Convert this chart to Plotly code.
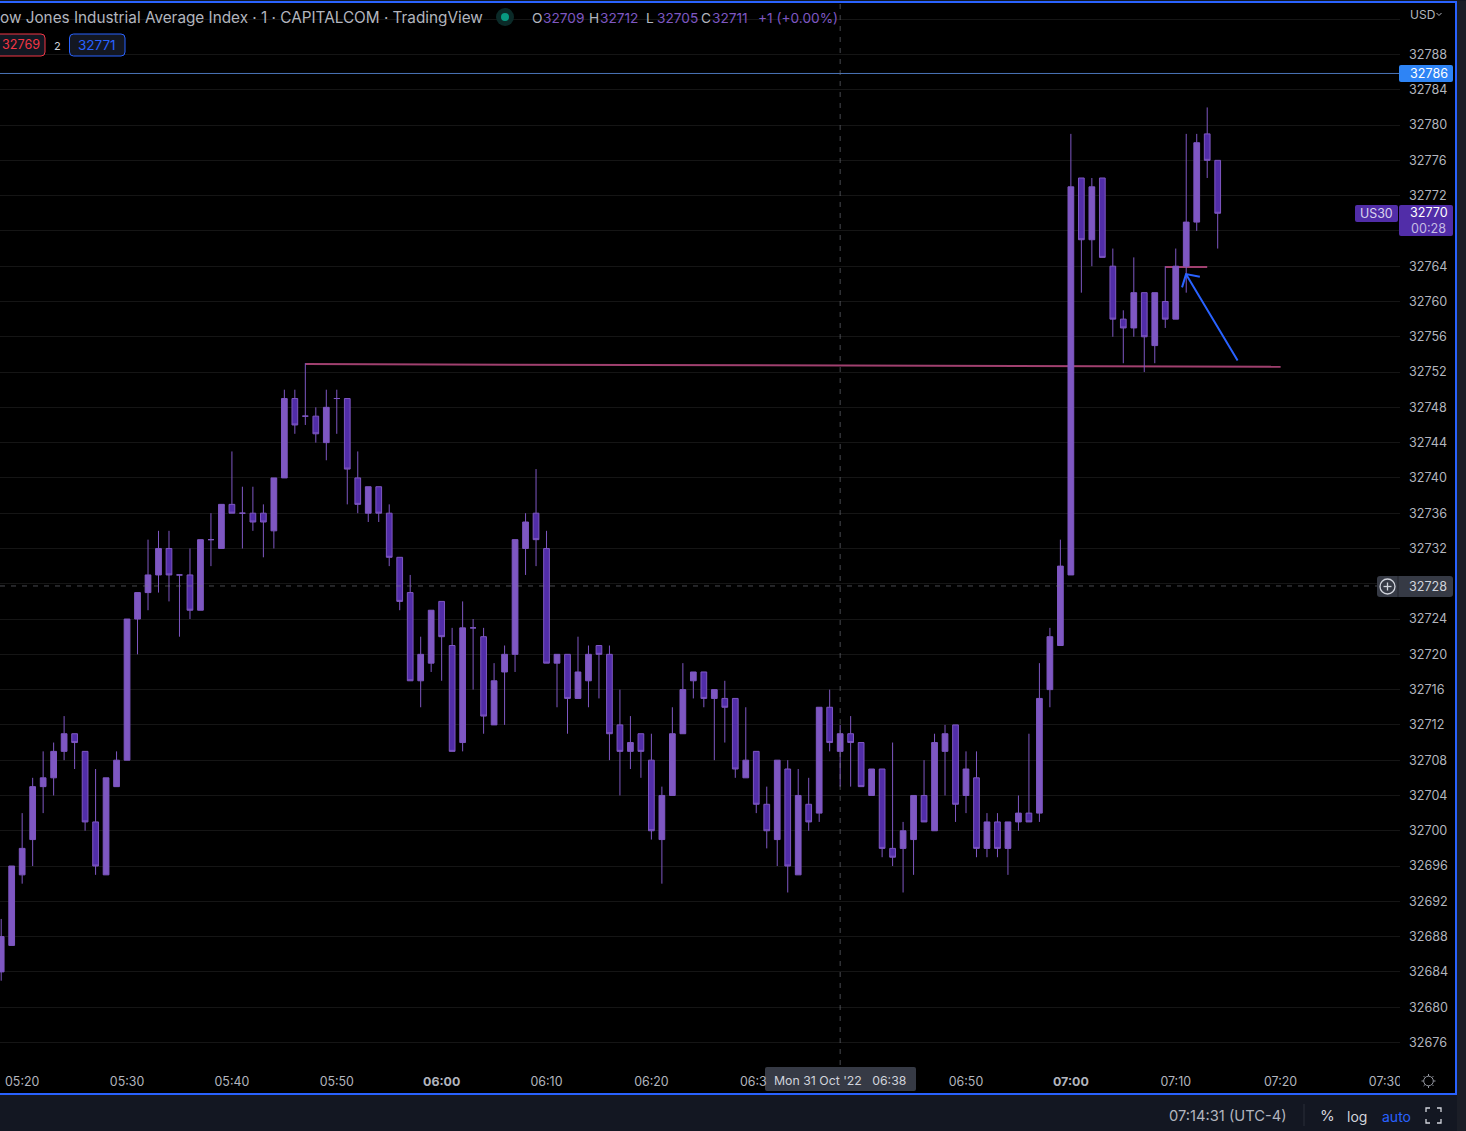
import pandas as pd
import plotly.graph_objects as go

# ---------- data ----------
first_bar = "2022-10-31 05:18"
open_values = [32684,32687,32695,32699,32705,32706,32709,32711,32709,32701,32695,32705,32708,32724,32727,32729,32732,32729,32729,32725,32733,32732,32737,32736,32736,32736,32734,32740,32749,32747,32747,32744,32749,32749,32740,32736,32739,32736,32731,32727,32717,32719,32726,32721,32710,32723,32722,32712,32718,32720,32732,32736,32732,32719,32720,32715,32717,32721,32720,32712,32709,32711,32708,32699,32704,32711,32717,32718,32715,32715,32715,32706,32709,32703,32699,32707,32695,32703,32702,32714,32709,32711,32710,32704,32707,32698,32698,32699,32704,32700,32709,32712,32704,32706,32698,32701,32698,32701,32702,32702,32716,32721,32729,32774,32767,32774,32764,32758,32757,32761,32755,32760,32758,32764,32769,32779,32776]
high_values = [32690,32696,32702,32706,32709,32710,32713,32711,32709,32707,32706,32709,32724,32727,32733,32734,32734,32729,32732,32733,32736,32737,32743,32739,32739,32737,32740,32750,32750,32753,32748,32750,32750,32749,32743,32739,32739,32737,32731,32729,32722,32725,32726,32723,32726,32724,32723,32719,32721,32733,32736,32741,32734,32720,32720,32722,32721,32721,32721,32716,32713,32711,32711,32705,32714,32719,32718,32718,32716,32717,32715,32714,32709,32705,32708,32708,32707,32706,32714,32716,32712,32713,32710,32707,32707,32710,32701,32704,32708,32711,32712,32712,32709,32709,32702,32702,32701,32704,32711,32719,32723,32733,32779,32774,32774,32774,32766,32759,32765,32761,32761,32764,32766,32779,32779,32782,32776]
low_values = [32683,32687,32694,32696,32702,32704,32708,32707,32700,32695,32695,32705,32708,32720,32725,32727,32726,32722,32724,32725,32730,32732,32736,32732,32734,32731,32732,32740,32745,32746,32744,32742,32745,32737,32736,32735,32735,32730,32725,32717,32714,32718,32717,32709,32709,32716,32711,32712,32712,32718,32729,32730,32719,32714,32711,32715,32714,32715,32708,32704,32707,32706,32699,32694,32704,32711,32715,32714,32708,32710,32706,32706,32702,32698,32696,32693,32695,32700,32701,32709,32705,32705,32705,32704,32697,32696,32693,32695,32701,32700,32704,32701,32702,32697,32697,32697,32695,32700,32701,32701,32714,32721,32729,32761,32764,32765,32756,32753,32756,32752,32753,32757,32758,32761,32768,32774,32766]
close_values = [32688,32696,32698,32705,32706,32709,32711,32710,32701,32696,32706,32708,32724,32727,32729,32732,32729,32729,32725,32733,32733,32737,32736,32736,32735,32735,32740,32749,32746,32747,32745,32748,32749,32741,32737,32739,32736,32731,32726,32717,32720,32725,32722,32709,32723,32723,32713,32717,32720,32733,32735,32733,32719,32720,32715,32718,32720,32720,32711,32709,32710,32709,32700,32704,32711,32716,32718,32715,32716,32714,32707,32708,32703,32700,32708,32696,32704,32701,32714,32710,32711,32710,32705,32707,32698,32697,32700,32704,32701,32710,32711,32703,32707,32698,32701,32698,32701,32702,32701,32715,32722,32730,32773,32767,32773,32765,32758,32757,32761,32756,32761,32758,32764,32769,32778,32776,32770]

price_ticks = [32676,32680,32684,32688,32692,32696,32700,32704,32708,32712,32716,32720,32724,32728,32732,32736,32740,32744,32748,32752,32756,32760,32764,32768,32772,32776,32780,32784,32788,32792]
price_tick_labels = ["32676","32680","32684","32688","32692","32696","32700","32704","32708","32712","32716","32720","32724","","32732","32736","32740","32744","32748","32752","32756","32760","32764","","32772","32776","32780","32784","32788",""]
time_ticks = ["05:20","05:30","05:40","05:50","06:00","06:10","06:20","06:30","06:40","06:50","07:00","07:10","07:20","07:30"]
time_tick_labels = ["05:20","05:30","05:40","05:50","<b>06:00</b>","06:10","06:20","","","06:50","<b>07:00</b>","07:10","07:20","07:30"]

ohlc_pieces = ["O","32709","H","32712","L","32705","C","32711","+1 (+0.00%)"]

level_times = ["05:47", "07:20"]
level_prices = [32752.9, 32752.6]
short_level_times = ["07:09", "07:13"]
short_level_prices = [32763.9, 32763.9]
arrow_times = ["07:15:54", "07:10:59", "07:10:36", "07:10:59", "07:12:18"]
arrow_prices = [32753.3, 32763.1, 32761.6, 32763.1, 32762.8]
alert_price = 32785.85
crosshair_time = "06:38"
crosshair_price = 32727.75

# ---------- geometry ----------
W, H = 1400, 1065
PX_PER_UNIT = 8.821
PX_PER_MIN = 10.487
def fx(x): return x / W
def fy(y): return 1 - y / H
base = pd.Timestamp(first_bar)
day = "2022-10-31 "
times = [base + pd.Timedelta(minutes=i) for i in range(len(open_values))]
def t(s): return day + s
x0 = base - pd.Timedelta(minutes=1.2 / PX_PER_MIN)
x1 = base + pd.Timedelta(minutes=(W - 1.2) / PX_PER_MIN)
ytop = 32788 + 54.5 / PX_PER_UNIT
ybot = 32788 - (H - 54.5) / PX_PER_UNIT

UP = "#7e57c2"
DOWN = "#512da8"
TXT = "#b2b5be"
FONT = "Inter"

fig = go.Figure()
fig.add_trace(go.Candlestick(
    x=times, open=open_values, high=high_values, low=low_values, close=close_values,
    increasing=dict(fillcolor=UP, line=dict(color=UP, width=1)),
    decreasing=dict(fillcolor=DOWN, line=dict(color=UP, width=1)),
    whiskerwidth=0, showlegend=False, hoverinfo="skip"))
fig.add_trace(go.Scatter(
    x=[t(s) for s in arrow_times], y=arrow_prices, mode="lines",
    line=dict(color="#2962ff", width=2), showlegend=False, hoverinfo="skip"))

shapes = []
annotations = []

def rrect(x0_, y0_, x1_, y1_, fill, line=None, r=3, layer="above"):
    a, b, c, d = fx(x0_), fy(y0_), fx(x1_), fy(y1_)
    rx, ry = r / W, r / H
    path = (f"M{a+rx},{b} L{c-rx},{b} Q{c},{b} {c},{b-ry} L{c},{d+ry} Q{c},{d} {c-rx},{d} "
            f"L{a+rx},{d} Q{a},{d} {a},{d+ry} L{a},{b-ry} Q{a},{b} {a+rx},{b} Z")
    shapes.append(dict(type="path", xref="paper", yref="paper", path=path, fillcolor=fill,
                       line=dict(color=line or fill, width=1 if line else 0), layer=layer))

def rect(x0_, y0_, x1_, y1_, fill):
    shapes.append(dict(type="rect", xref="paper", yref="paper", x0=fx(x0_), x1=fx(x1_),
                       y0=fy(y0_), y1=fy(y1_), fillcolor=fill, line=dict(width=0), layer="above"))

def seg(pts, color, width=1.3, dash=None):
    d = "M" + " L".join(f"{fx(a)},{fy(b)}" for a, b in pts)
    ln = dict(color=color, width=width)
    if dash: ln["dash"] = dash
    shapes.append(dict(type="path", xref="paper", yref="paper", path=d, line=ln, layer="above"))

def circle(cx, cy, r, fill, line=None, width=1.3):
    shapes.append(dict(type="circle", xref="paper", yref="paper", x0=fx(cx - r), x1=fx(cx + r),
                       y0=fy(cy + r), y1=fy(cy - r), fillcolor=fill,
                       line=dict(color=line or fill, width=width if line else 0), layer="above"))

def label(x, y, text, color=TXT, size=13, anchor="center"):
    annotations.append(dict(xref="paper", yref="paper", x=fx(x), y=fy(y), text=text,
                            showarrow=False, xanchor=anchor, yanchor="middle", borderpad=0,
                            font=dict(family=FONT, size=size, color=color)))

# drawings between the grid and the candles
shapes.append(dict(type="line", xref="x", yref="y", x0=t(level_times[0]), x1=t(level_times[1]),
                   y0=level_prices[0], y1=level_prices[1], line=dict(color="#a0406f", width=2), layer="between"))
shapes.append(dict(type="line", xref="x", yref="y", x0=t(short_level_times[0]), x1=t(short_level_times[1]),
                   y0=short_level_prices[0], y1=short_level_prices[1], line=dict(color="#a0406f", width=2), layer="between"))
shapes.append(dict(type="line", xref="paper", yref="y", x0=0, x1=1, y0=alert_price, y1=alert_price,
                   line=dict(color="#4a74b8", width=1), layer="between"))

# crosshair
shapes.append(dict(type="line", xref="x", yref="paper", x0=t(crosshair_time), x1=t(crosshair_time), y0=0, y1=1,
                   line=dict(color="rgba(120,123,134,0.6)", width=1, dash="5px,6px"), layer="above"))
shapes.append(dict(type="line", xref="paper", yref="y", x0=0, x1=fx(1377), y0=crosshair_price, y1=crosshair_price,
                   line=dict(color="rgba(120,123,134,0.6)", width=1, dash="5px,6px"), layer="above"))

# right-hand mask for the clipped time label
rect(1400, 1062, 1455, 1094, "#000000")

# price tags
rrect(1399, 65, 1453, 82, "#2e84f5", r=2)
label(1428.5, 73.5, "32786", "#ffffff", 12.6)
rrect(1355, 205, 1398, 222, DOWN, r=2)
label(1376.5, 213.5, "US30", "#d9d3ee", 12.4)
rrect(1399, 205, 1453, 236, DOWN, r=2)
label(1428.5, 213, "32770", "#ffffff", 12.6)
label(1428.5, 228.5, "00:28", "#c5bce3", 12.6)
rrect(1377, 576, 1453, 597, "#363a45", r=3)
seg([(1398, 576), (1398, 597)], "#22252d", 1)
circle(1387.5, 586.5, 7.5, "rgba(0,0,0,0)", "#d1d4dc", 1.3)
seg([(1383.5, 586.5), (1391.5, 586.5)], "#d1d4dc", 1.3)
seg([(1387.5, 582.5), (1387.5, 590.5)], "#d1d4dc", 1.3)
label(1428, 586.5, "32728", "#d1d4dc", 12.6)

# clipped time label and crosshair time tag
label(739, 1081, "06:3", TXT, 12.4, "left")
rrect(765, 1067, 916, 1091, "#363a45", r=2)
label(840, 1080.5, "Mon 31 Oct '22\u00a0\u00a0\u00a006:38", "#d1d4dc", 12.3)

# frame and bottom bar
rect(0, 1095, 1466, 1131, "#131722")
rect(1457, 0, 1466, 1131, "#1b1e27")
rect(0, 0, 1466, 1, "#131722")
rect(0, 1, 1457, 3, "#2962ff")
rect(1455, 1, 1457, 1095, "#2962ff")
rect(0, 1093, 1457, 1095, "#2962ff")
seg([(1304, 1104), (1304, 1126)], "#2a2e39", 1)

# header
label(-1, 17, "ow Jones Industrial Average Index · 1 · CAPITALCOM · TradingView", "#b2b5be", 15.3, "left")
circle(505, 17, 9, "#0b2a28")
circle(505, 17, 4, "#089981")
for xpos, piece, colr in zip([531, 542, 588, 599, 645, 656, 700, 711, 757], ohlc_pieces,
                             [TXT, UP, TXT, UP, TXT, UP, TXT, UP, UP]):
    label(xpos, 18, piece, colr, 13.7, "left")
rrect(-8, 34, 45, 56, "#131722", "#f23645", r=4)
label(0.5, 45, "32769", "#f23645", 12.6, "left")
label(57, 46, "2", "#d1d4dc", 11)
rrect(69.5, 34, 125, 56, "#131722", "#2962ff", r=4)
label(97, 45, "32771", "#2962ff", 13.5)

# USD selector
label(1408.5, 15, "USD", TXT, 12, "left")
seg([(1436.5, 13), (1439, 15.5), (1441.5, 13)], TXT, 1)

# gear
circle(1428.5, 1081, 4.8, "rgba(0,0,0,0)", "#9598a1", 1)
for a, b, c, d in [(1428.5, 1074, 1428.5, 1076), (1428.5, 1086, 1428.5, 1088), (1421.5, 1081, 1423.5, 1081),
                   (1433.5, 1081, 1435.5, 1081), (1423.6, 1076.1, 1425, 1077.5), (1432, 1084.5, 1433.4, 1085.9),
                   (1423.6, 1085.9, 1425, 1084.5), (1432, 1077.5, 1433.4, 1076.1)]:
    seg([(a, b), (c, d)], "#9598a1", 1)

# bottom bar text and icon
label(1227.5, 1116, "07:14:31 (UTC-4)", TXT, 14.7)
label(1327, 1115, "%", "#d1d4dc", 15)
label(1357, 1116, "log", "#d1d4dc", 14)
label(1396, 1116, "auto", "#2962ff", 14)
for pts in [[(1426, 1112), (1426, 1108), (1430, 1108)], [(1437, 1108), (1441, 1108), (1441, 1112)],
            [(1441, 1119), (1441, 1123), (1437, 1123)], [(1430, 1123), (1426, 1123), (1426, 1119)]]:
    seg(pts, "#d1d4dc", 1.3)

fig.update_layout(
    width=1466, height=1131,
    margin=dict(l=0, r=66, t=0, b=66, pad=0, autoexpand=False),
    paper_bgcolor="#000000", plot_bgcolor="#000000",
    boxgap=0.22, showlegend=False, dragmode=False,
    font=dict(family=FONT, color=TXT, size=13),
    shapes=shapes, annotations=annotations,
    xaxis=dict(type="date", range=[x0, x1], rangeslider=dict(visible=False), showgrid=False, zeroline=False,
               showline=False, ticks="", tickmode="array", tickvals=[t(s) for s in time_ticks],
               ticktext=time_tick_labels, tickfont=dict(family=FONT, size=12.4, color=TXT), ticklabelstandoff=8),
    yaxis=dict(side="right", range=[ybot, ytop], showgrid=True, gridcolor="#151515", gridwidth=1, zeroline=False,
               showline=False, ticks="", tickmode="array", tickvals=price_ticks, ticktext=price_tick_labels,
               tickfont=dict(family=FONT, size=12.6, color=TXT), ticklabelstandoff=8),
)

fig.write_html("out.html", config=dict(displayModeBar=False),
               post_script="document.body.style.margin='0';document.body.style.overflow='hidden';")
